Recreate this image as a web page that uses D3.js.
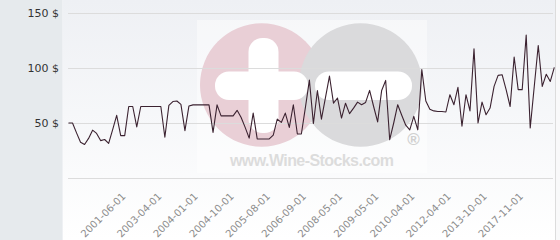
<!DOCTYPE html>
<html><head><meta charset="utf-8">
<script src="https://cdn.jsdelivr.net/npm/d3@7"></script>
<style>html,body{margin:0;padding:0;background:#fff;}svg{display:block;}</style>
</head><body>
<svg id="c" width="560" height="240"></svg>
<script>
const values = [
50,50,41,32.5,30.5,36,43.5,40.5,34,35,
31.5,44,57,38.5,38.5,65,65,46.5,65,65,
65,65,65,65,37,66,69.5,70,67,43,
65.5,66.5,66.5,66.5,66.5,66.5,41.5,66.5,56.5,56.5,
56.5,56.5,61.5,55,46,36.3,59,35.5,35.5,35.5,
35.5,39,53.5,50.5,59,46,66.6,40,40,64,
89,49.5,79.5,53.5,73,92.7,68,72.7,54.5,68,
58.5,63.5,69,66.6,68.7,79.6,65,51,79.6,88.7,
34.8,50,66.6,57,48,43.8,56,43.8,98.6,70,
62.5,61,60.5,60.5,60,75.7,66.6,82.4,47,75.7,
61,117.5,50,69,57.5,63.6,83.3,93.3,93.9,80.3,
65,110,80.3,80.3,130,45.5,83,120.5,83.3,94.3,
87.8,100.5
];
const tickIndex = [14,23,32,41,50,59,68,77,86,95,104,113];
const tickLabels = ["2001-06-01","2003-04-01","2004-01-01","2004-10-01","2005-08-01","2006-09-01","2008-05-01","2009-05-01","2010-04-01","2012-04-01","2013-10-01","2017-11-01"];
const yTicks = [50,100,150];
const gridValues = [0,50,100,150];

const svg = d3.select("#c");
const defs = svg.append("defs");
const grad = defs.append("linearGradient").attr("id","bg").attr("x1",0).attr("y1",0).attr("x2",0).attr("y2",1);
grad.append("stop").attr("offset","0%").attr("stop-color","#eef0f4");
grad.append("stop").attr("offset","100%").attr("stop-color","#ffffff");

// backgrounds
svg.append("rect").attr("x",0).attr("y",0).attr("width",560).attr("height",240).attr("fill","#f9f9fa");
svg.append("rect").attr("x",63).attr("y",0).attr("width",492).attr("height",240).attr("fill","url(#bg)");
svg.append("rect").attr("x",0).attr("y",0).attr("width",62.5).attr("height",240).attr("fill","#e6eaed");
svg.append("line").attr("x1",555.5).attr("x2",555.5).attr("y1",0).attr("y2",240).attr("stroke","#dcdcdc");

const x = d3.scaleLinear().domain([0, values.length-1]).range([68.5, 554.3]);
const y = d3.scaleLinear().domain([0,150]).range([178,13]);

// watermark
const wm = svg.append("g");
wm.append("rect").attr("x",197).attr("y",20).attr("width",230).attr("height",153).attr("fill","#ffffff").attr("opacity",0.45);
wm.append("circle").attr("cx",261.7).attr("cy",85).attr("r",61.7).attr("fill","#e9cfd6");
wm.append("circle").attr("cx",360.6).attr("cy",85).attr("r",61.7).attr("fill","#dadadc");
wm.append("rect").attr("x",248.5).attr("y",38).attr("width",30).attr("height",95).attr("rx",14).attr("fill","#ffffff");
wm.append("rect").attr("x",215).attr("y",71.5).attr("width",93).attr("height",28.5).attr("rx",14).attr("fill","#ffffff");
wm.append("rect").attr("x",315).attr("y",71.5).attr("width",97).attr("height",28.5).attr("rx",14).attr("fill","#ffffff");
wm.append("text").attr("x",312).attr("y",165.5).attr("text-anchor","middle")
  .attr("font-family","Liberation Sans, Arial, sans-serif").attr("font-weight","bold").attr("font-size",16)
  .attr("textLength",164).attr("fill","#dcdcdc").text("www.Wine-Stocks.com");
wm.append("text").attr("x",413.5).attr("y",145).attr("text-anchor","middle")
  .attr("font-family","Liberation Sans, Arial, sans-serif").attr("font-weight","bold").attr("font-size",17)
  .attr("fill","#d0d0d0").text("®");

// grid
svg.append("g").selectAll("line").data(gridValues).join("line")
  .attr("x1",68).attr("x2",553).attr("y1",d=>Math.round(y(d))+0.5).attr("y2",d=>Math.round(y(d))+0.5)
  .attr("stroke","#dcdcdc").attr("stroke-width",1);

// y axis
const ya = svg.append("g").attr("transform","translate(62,0)")
  .call(d3.axisLeft(y).tickValues(yTicks).tickFormat(d=>d+" $").tickSize(0).tickPadding(3));
ya.select(".domain").remove();
ya.selectAll("text").attr("font-family","DejaVu Sans, sans-serif").attr("font-size",11).attr("fill","#333");

// x axis
const xa = svg.append("g").attr("transform","translate(0,178)")
  .call(d3.axisBottom(x).tickValues(tickIndex).tickFormat((d,i)=>tickLabels[i]).tickSize(0));
xa.select(".domain").remove();
xa.selectAll("text")
  .attr("font-family","DejaVu Sans, sans-serif").attr("font-size",10).attr("fill","#8c8c8c")
  .attr("text-anchor","end").attr("dy",0).attr("y",0)
  .attr("transform","translate(1,19) rotate(-45)");

// line
svg.append("path").datum(values)
  .attr("d", d3.line().x((d,i)=>x(i)).y(d=>y(d)))
  .attr("fill","none").attr("stroke","#3b2230").attr("stroke-width",1.1).attr("stroke-linejoin","round");
</script>
</body></html>
